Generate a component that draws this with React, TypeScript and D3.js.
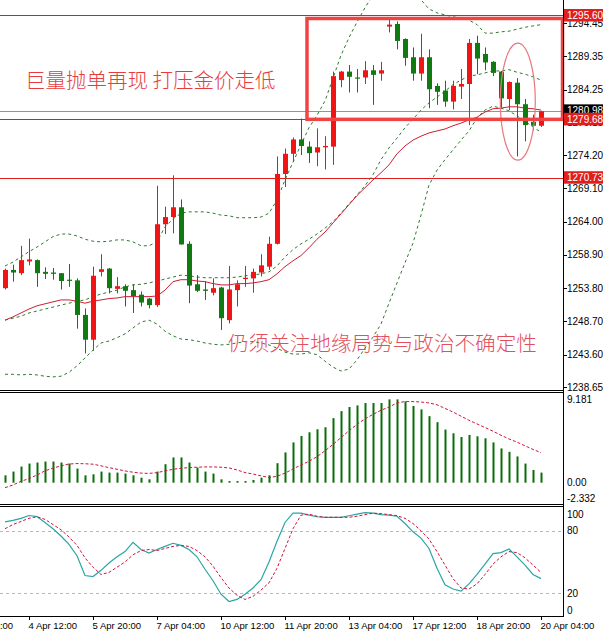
import React, { useRef, useEffect } from "react";
import * as d3 from "d3";

// H4 candles, oldest first (red = up, green = down)
const opens = [
  1253.8, 1256.6, 1256.1, 1257.9, 1258.1, 1256.3, 1256.2, 1256.1, 1255.1, 1255.0,
  1249.7, 1245.9, 1256.3, 1256.8, 1253.7, 1254.1, 1253.5, 1252.8, 1252.2, 1251.2,
  1263.6, 1264.7, 1266.2, 1260.6, 1254.4, 1253.6, 1253.1, 1253.9, 1248.9, 1253.5,
  1255.2, 1255.3, 1256.2, 1257.1, 1260.6, 1271.3, 1274.4, 1276.6, 1275.5, 1274.6,
  1275.4, 1275.5, 1285.7, 1287.0, 1286.1, 1286.1, 1287.2, 1286.7, 1293.9, 1294.3,
  1292.0, 1289.2, 1286.7, 1289.2, 1284.8, 1284.1, 1282.4, 1284.7, 1285.1, 1291.4,
  1289.7, 1288.5, 1287.0, 1282.8, 1285.3, 1282.0, 1279.3, 1278.7,
];
const highs = [
  1256.8, 1257.4, 1260.3, 1261.4, 1258.2, 1257.0, 1256.9, 1256.1, 1257.5, 1255.3,
  1250.7, 1257.1, 1259.0, 1256.9, 1255.5, 1254.4, 1254.4, 1253.3, 1252.3, 1269.5,
  1266.3, 1271.1, 1267.4, 1261.0, 1255.8, 1254.8, 1255.3, 1254.0, 1257.2, 1255.0,
  1257.2, 1256.8, 1259.0, 1261.7, 1274.0, 1275.2, 1276.9, 1279.8, 1276.3, 1278.3,
  1277.1, 1287.0, 1287.1, 1288.0, 1287.4, 1288.6, 1288.0, 1288.5, 1295.3, 1294.7,
  1292.1, 1290.7, 1292.8, 1290.4, 1285.2, 1285.6, 1285.6, 1287.4, 1292.0, 1292.5,
  1290.7, 1288.6, 1287.1, 1285.5, 1286.0, 1282.8, 1280.4, 1281.0,
];
const lows = [
  1253.6, 1254.8, 1255.8, 1257.3, 1254.0, 1255.2, 1255.1, 1253.6, 1254.0, 1247.6,
  1243.8, 1244.2, 1255.6, 1253.0, 1253.0, 1251.0, 1250.0, 1251.0, 1250.7, 1250.9,
  1262.1, 1262.2, 1260.5, 1251.5, 1253.2, 1252.0, 1252.7, 1247.4, 1248.4, 1251.0,
  1254.0, 1253.1, 1255.6, 1256.6, 1260.5, 1269.3, 1273.2, 1274.2, 1273.0, 1272.5,
  1272.0, 1272.7, 1284.6, 1283.8, 1283.8, 1285.1, 1281.9, 1285.6, 1293.0, 1290.4,
  1287.9, 1285.6, 1285.6, 1281.4, 1281.9, 1281.6, 1281.2, 1282.8, 1278.8, 1286.6,
  1287.2, 1286.3, 1281.5, 1281.1, 1274.0, 1276.3, 1278.0, 1278.5,
];
const closes = [
  1256.6, 1256.2, 1258.1, 1258.2, 1256.1, 1256.0, 1256.0, 1254.9, 1255.0, 1249.7,
  1245.9, 1255.7, 1256.7, 1253.8, 1254.1, 1253.4, 1252.6, 1251.6, 1251.2, 1263.6,
  1264.7, 1266.2, 1260.5, 1254.2, 1253.4, 1253.4, 1253.8, 1249.2, 1253.6, 1254.4,
  1255.4, 1256.3, 1257.3, 1260.6, 1271.3, 1274.4, 1276.6, 1275.6, 1274.5, 1275.4,
  1275.6, 1286.3, 1287.0, 1286.2, 1286.0, 1287.2, 1286.5, 1287.2, 1294.2, 1291.7,
  1289.1, 1286.7, 1289.2, 1284.3, 1283.9, 1282.4, 1284.8, 1285.1, 1291.4, 1289.0,
  1288.4, 1286.8, 1282.9, 1285.4, 1282.0, 1278.8, 1278.7, 1280.9,
];

// Bollinger bands (green dashed) and moving average (red)
const bbUpper = [
  1257.2, 1257.8, 1258.6, 1259.4, 1260.1, 1260.9, 1261.7, 1262.1, 1262.1, 1261.8,
  1261.3, 1261.0, 1260.9, 1261.0, 1261.2, 1261.2, 1260.9, 1260.3, 1260.3, 1260.9,
  1263.2, 1264.4, 1265.3, 1265.5, 1265.5, 1265.5, 1265.3, 1265.0, 1264.9, 1264.6,
  1264.6, 1264.6, 1264.7, 1265.3, 1267.3, 1270.4, 1273.1, 1275.8, 1278.4, 1280.3,
  1282.5, 1286.0, 1289.5, 1292.2, 1294.6, 1296.8, 1298.7, 1300.3, 1301.0, 1301.4,
  1301.0, 1299.5, 1298.0, 1296.6, 1296.0, 1295.7, 1295.4, 1295.2, 1294.9, 1294.2,
  1292.9, 1292.9, 1293.1, 1293.2, 1293.5, 1293.8, 1294.0, 1294.2,
];
const bbMiddle = [
  1248.9, 1249.2, 1249.5, 1250.0, 1250.3, 1250.6, 1250.9, 1251.2, 1251.5, 1251.8,
  1252.0, 1252.5, 1252.9, 1253.2, 1253.5, 1254.0, 1254.3, 1254.4, 1254.6, 1254.9,
  1255.2, 1255.5, 1255.8, 1255.7, 1255.5, 1255.4, 1255.4, 1255.4, 1255.4, 1255.5,
  1255.7, 1255.8, 1256.0, 1256.3, 1257.2, 1258.6, 1259.7, 1260.6, 1261.3, 1262.1,
  1263.0, 1264.0, 1265.3, 1266.7, 1268.1, 1269.5, 1271.2, 1273.5, 1275.3, 1276.8,
  1278.4, 1279.7, 1281.1, 1282.2, 1283.1, 1284.0, 1285.0, 1285.7, 1286.3, 1286.5,
  1286.8, 1287.1, 1287.1, 1287.3, 1286.9, 1286.6, 1286.2, 1285.7,
];
const bbLower = [
  1240.6, 1240.6, 1240.5, 1240.6, 1240.5, 1240.3, 1240.2, 1240.3, 1240.9, 1241.9,
  1243.1, 1244.3, 1245.4, 1245.7, 1246.2, 1246.8, 1247.7, 1248.6, 1248.9, 1248.3,
  1247.2, 1246.5, 1246.0, 1245.9, 1245.7, 1245.4, 1245.2, 1245.1, 1245.2, 1245.4,
  1245.6, 1245.6, 1245.4, 1245.1, 1244.6, 1244.0, 1243.7, 1243.7, 1243.9, 1243.6,
  1242.6, 1241.7, 1241.1, 1241.4, 1242.8, 1244.6, 1246.3, 1248.3, 1251.5, 1254.6,
  1257.7, 1260.7, 1265.0, 1269.6, 1271.9, 1273.5, 1275.0, 1276.5, 1277.9, 1279.9,
  1281.1, 1281.7, 1281.4, 1281.0, 1280.2, 1279.4, 1278.5, 1277.7,
];
const maLine = [
  1248.9, 1249.4, 1250.0, 1250.6, 1251.1, 1251.4, 1251.7, 1252.0, 1252.0, 1251.8,
  1251.5, 1251.8, 1252.0, 1252.2, 1252.3, 1252.5, 1252.5, 1252.5, 1252.5, 1252.6,
  1253.5, 1254.8, 1255.1, 1255.1, 1254.9, 1254.8, 1254.5, 1254.3, 1254.3, 1254.5,
  1254.5, 1254.6, 1254.8, 1255.1, 1256.0, 1257.1, 1258.0, 1258.8, 1260.0, 1261.3,
  1262.4, 1263.8, 1265.2, 1266.6, 1268.0, 1269.2, 1270.4, 1271.5, 1272.7, 1274.4,
  1275.6, 1276.5, 1277.1, 1277.6, 1277.9, 1278.2, 1278.7, 1279.1, 1279.6, 1280.0,
  1280.8, 1281.3, 1281.4, 1281.6, 1281.6, 1281.4, 1281.3, 1281.1,
];

// MACD panel
const macdHist = [
  0.81, 1.22, 1.77, 2.1, 2.21, 2.32, 2.32, 2.21, 2.1, 1.55,
  0.81, 0.92, 1.22, 1.11, 1.11, 1.0, 0.81, 0.55, 0.37, 1.22,
  2.03, 2.77, 2.77, 2.21, 1.66, 1.22, 1.0, 0.37, 0.18, 0.18,
  0.18, 0.3, 0.55, 0.81, 2.14, 3.32, 4.42, 5.13, 5.53, 5.86,
  6.08, 7.08, 7.85, 8.3, 8.48, 8.74, 8.74, 8.74, 9.14, 9.14,
  8.92, 8.41, 8.04, 7.3, 6.64, 5.83, 5.42, 5.01, 5.24, 5.09,
  4.87, 4.42, 3.76, 3.39, 2.88, 2.1, 1.4, 1.11,
];
const macdSignal = [
  -0.55, -0.25, 0.15, 0.45, 0.85, 1.3, 1.6, 1.85, 2.05, 2.1,
  2.08, 2.03, 1.85, 1.65, 1.48, 1.29, 1.15, 1.05, 1.02, 1.1,
  1.3, 1.47, 1.58, 1.66, 1.7, 1.73, 1.73, 1.7, 1.62, 1.4,
  1.11, 0.95, 0.75, 0.57, 0.7, 1.05, 1.5, 1.95, 2.35, 2.85,
  3.5, 4.2, 4.95, 5.7, 6.4, 7.0, 7.5, 7.95, 8.3, 8.75,
  8.9, 8.9, 8.85, 8.75, 8.55, 8.15, 7.75, 7.3, 6.85, 6.45,
  6.05, 5.65, 5.2, 4.8, 4.45, 4.05, 3.65, 3.3,
];

// Stochastic panel
const stochMain = [
  88.5, 90, 92, 94.7, 93.7, 88, 82, 75, 67, 56,
  37, 36, 42, 49, 55, 60, 69, 62, 58.5, 62,
  65, 68, 66, 62, 55, 43, 32, 19, 12, 14,
  19, 25, 33, 50, 70, 88, 97, 97, 95, 93.5,
  93, 93, 93, 94.5, 96, 97.5, 97, 95.5, 95, 94,
  87, 79, 73, 63, 44, 28, 24, 22, 29, 38,
  48, 58, 59, 62.5, 55, 47, 38, 34,
];
const stochSignal = [
  82, 86, 89, 92, 93.5, 91, 86, 81, 74, 66,
  54, 45, 38, 40, 45, 50, 57, 61, 62, 61,
  63, 65, 66, 65, 61, 55, 46, 35, 25, 18,
  14, 17, 23, 30, 44, 63, 82, 95, 96, 94,
  93, 93, 93, 93, 94, 95.5, 97, 96.5, 95.5, 94.5,
  92, 87, 80, 72, 60, 47, 34, 25, 24, 29,
  38, 48, 55, 60, 59, 54, 47, 40,
];

// axes
const priceTicks = [1294.45, 1289.35, 1284.25, 1279.15, 1274.2, 1269.1, 1264.0, 1258.9, 1253.8, 1248.7, 1243.6, 1238.65];
const levelLines = [1295.6, 1279.68, 1270.73];
const bidPrice = 1280.98;
const macdTicks = [9.181, 0, -2.332];
const macdTickLabels = ["9.181", "0.00", "-2.332"];
const stochTicks = [100, 80, 20, 0];
const stochLevels = [80, 20];
const dateTickIndex = [-5, 3, 11, 19, 27, 35, 43, 51, 59, 67];
const dateLabels = [
  "3 Apr 04:00", "4 Apr 12:00", "5 Apr 20:00", "7 Apr 04:00", "10 Apr 12:00",
  "11 Apr 20:00", "13 Apr 04:00", "17 Apr 12:00", "18 Apr 20:00", "20 Apr 04:00",
];

const title1 = "巨量抛单再现 打压金价走低";
const title2 = "仍须关注地缘局势与政治不确定性";

const W = 603;
const H = 635;
const AXIS_X = 563;
const AXIS_FONT = "'Liberation Sans', Arial, sans-serif";
const CJK_FONT = "'Noto Sans CJK SC', sans-serif";
const UP = "#f01414";
const DOWN = "#0f7a0f";

const GoldChart: React.FC = () => {
  const svgRef = useRef<SVGSVGElement | null>(null);

  useEffect(() => {
    if (!svgRef.current) return;
    const svg = d3.select(svgRef.current);
    svg.selectAll("*").remove();

    const x = d3.scaleLinear().domain([0, 67]).range([5, 541]);
    const yPrice = d3.scaleLinear().domain([1238.65, 1294.45]).range([387, 23]);
    const yMacd = d3.scaleLinear().domain([0, 9.181]).range([482.7, 399]);
    const yStoch = d3.scaleLinear().domain([0, 100]).range([614, 510]);
    const px = (i: number) => Math.round(x(i)) + 0.5;
    const crisp = (v: number) => Math.round(v) + 0.5;

    svg.append("rect").attr("width", W).attr("height", H).attr("fill", "#fff");

    // clip regions for the three panels
    const defs = svg.append("defs");
    const clips: [string, number, number][] = [
      ["clipMain", 0, 390],
      ["clipMacd", 393, 111],
      ["clipStoch", 507, 109],
    ];
    clips.forEach(([id, top, h]) => {
      defs.append("clipPath").attr("id", id).append("rect")
        .attr("x", 0).attr("y", top).attr("width", AXIS_X).attr("height", h);
    });

    // ---------- main panel ----------
    const main = svg.append("g").attr("clip-path", "url(#clipMain)");

    main.selectAll("line.level").data(levelLines).enter().append("line")
      .attr("x1", 0).attr("x2", AXIS_X)
      .attr("y1", (d) => crisp(yPrice(d))).attr("y2", (d) => crisp(yPrice(d)))
      .attr("stroke", "#e01e1e").attr("stroke-width", 1);

    main.append("line")
      .attr("x1", 0).attr("x2", AXIS_X)
      .attr("y1", crisp(yPrice(bidPrice))).attr("y2", crisp(yPrice(bidPrice)))
      .attr("stroke", "#8a96a3").attr("stroke-width", 1);

    const priceLine = d3.line<number>().x((_, i) => x(i)).y((d) => yPrice(d));

    [bbUpper, bbMiddle, bbLower].forEach((band) => {
      main.append("path").datum(band).attr("d", priceLine)
        .attr("fill", "none").attr("stroke", "#2f7a2f")
        .attr("stroke-width", 1).attr("stroke-dasharray", "3,3");
    });

    main.append("path").datum(maLine).attr("d", priceLine)
      .attr("fill", "none").attr("stroke", "#cc1f33").attr("stroke-width", 1);

    const idx = d3.range(opens.length);
    const candle = main.selectAll("g.candle").data(idx).enter().append("g");
    candle.append("line")
      .attr("x1", (i) => px(i)).attr("x2", (i) => px(i))
      .attr("y1", (i) => yPrice(highs[i])).attr("y2", (i) => yPrice(lows[i]))
      .attr("stroke", (i) => (closes[i] >= opens[i] ? UP : DOWN));
    candle.append("rect")
      .attr("x", (i) => Math.round(x(i)) - 2)
      .attr("width", 5)
      .attr("y", (i) => yPrice(Math.max(opens[i], closes[i])))
      .attr("height", (i) => Math.max(1.2, Math.abs(yPrice(opens[i]) - yPrice(closes[i]))))
      .attr("fill", (i) => (closes[i] >= opens[i] ? UP : DOWN));

    // highlight box and ellipse
    const boxLeft = x(37.75);
    const boxTop = yPrice(levelLines[0]) + 3;
    const boxBottom = yPrice(levelLines[1]);
    svg.append("rect")
      .attr("x", boxLeft).attr("y", boxTop)
      .attr("width", AXIS_X - 0.5 - boxLeft).attr("height", boxBottom - boxTop)
      .attr("fill", "none").attr("stroke", "#f04444").attr("stroke-width", 3.5);

    main.append("ellipse")
      .attr("cx", x(64.1)).attr("cy", yPrice(1282.4))
      .attr("rx", 17.5).attr("ry", 58.5)
      .attr("fill", "none").attr("stroke", "#e8787e").attr("stroke-width", 1.2);

    main.append("text").text(title1)
      .attr("x", 25).attr("y", 88)
      .attr("font-family", CJK_FONT).attr("font-size", 20.5).attr("font-weight", 300)
      .attr("fill", "#e63c40");
    main.append("text").text(title2)
      .attr("x", 228).attr("y", 351)
      .attr("font-family", CJK_FONT).attr("font-size", 20.6).attr("font-weight", 300)
      .attr("fill", "#e2505e");

    // ---------- MACD panel ----------
    const macd = svg.append("g").attr("clip-path", "url(#clipMacd)");
    macd.selectAll("rect.bar").data(macdHist).enter().append("rect")
      .attr("x", (_, i) => Math.round(x(i)) - 0.5)
      .attr("width", 2)
      .attr("y", (d) => yMacd(Math.max(0, d)))
      .attr("height", (d) => Math.abs(yMacd(d) - yMacd(0)))
      .attr("fill", "#0b6e0b");
    macd.append("path").datum(macdSignal)
      .attr("d", d3.line<number>().x((_, i) => x(i)).y((d) => yMacd(d)))
      .attr("fill", "none").attr("stroke", "#d0143c")
      .attr("stroke-width", 1).attr("stroke-dasharray", "3,2");

    // ---------- Stochastic panel ----------
    const stoch = svg.append("g").attr("clip-path", "url(#clipStoch)");
    stoch.selectAll("line.lvl").data(stochLevels).enter().append("line")
      .attr("x1", 0).attr("x2", AXIS_X)
      .attr("y1", (d) => crisp(yStoch(d))).attr("y2", (d) => crisp(yStoch(d)))
      .attr("stroke", "#b8b8b8").attr("stroke-dasharray", "3,3");
    const stochLine = d3.line<number>().x((_, i) => x(i)).y((d) => yStoch(d));
    stoch.append("path").datum(stochMain).attr("d", stochLine)
      .attr("fill", "none").attr("stroke", "#2aa5a5").attr("stroke-width", 1.2);
    stoch.append("path").datum(stochSignal).attr("d", stochLine)
      .attr("fill", "none").attr("stroke", "#d0143c")
      .attr("stroke-width", 1).attr("stroke-dasharray", "3,2");

    // ---------- frames ----------
    const frame = svg.append("g").attr("stroke", "#000").attr("stroke-width", 1);
    [390.5, 392.5, 504.5, 506.5, 616.5].forEach((yy) => {
      frame.append("line").attr("x1", 0).attr("x2", AXIS_X + 0.5).attr("y1", yy).attr("y2", yy);
    });
    frame.append("line").attr("x1", AXIS_X + 0.5).attr("x2", AXIS_X + 0.5).attr("y1", 0).attr("y2", 617);

    // ---------- right axis labels ----------
    const axisText = svg.append("g").attr("font-family", AXIS_FONT).attr("font-size", 10).attr("fill", "#000");

    priceTicks.forEach((p) => {
      const yy = yPrice(p);
      frame.append("line").attr("x1", AXIS_X).attr("x2", AXIS_X + 4).attr("y1", crisp(yy)).attr("y2", crisp(yy));
      axisText.append("text").text(p.toFixed(2)).attr("x", 567).attr("y", yy + 3.5);
    });

    macdTicks.forEach((v, k) => {
      const yy = Math.min(Math.max(yMacd(v), 399), 498);
      axisText.append("text").text(macdTickLabels[k]).attr("x", 567).attr("y", yy + 3.5);
    });

    stochTicks.forEach((v) => {
      const yy = Math.min(Math.max(yStoch(v), 514), 610);
      axisText.append("text").text(String(v)).attr("x", 567).attr("y", yy + 3.5);
    });

    // price tags on the axis
    const tags: [number, string][] = [
      [bidPrice, "#000"],
      [levelLines[0], "#e01e1e"],
      [levelLines[1], "#e01e1e"],
      [levelLines[2], "#e01e1e"],
    ];
    tags.forEach(([p, color]) => {
      const yy = yPrice(p);
      svg.append("rect").attr("x", 564).attr("y", yy - 6.5).attr("width", 40).attr("height", 12.5).attr("fill", color);
      svg.append("text").text(p.toFixed(2))
        .attr("x", 567).attr("y", yy + 3.5)
        .attr("font-family", AXIS_FONT).attr("font-size", 10).attr("fill", "#fff");
    });

    // ---------- date axis ----------
    dateTickIndex.forEach((i, k) => {
      const xx = px(i);
      frame.append("line").attr("x1", xx).attr("x2", xx).attr("y1", 616).attr("y2", 620);
      axisText.append("text").text(dateLabels[k])
        .attr("x", xx - 1).attr("y", 629).attr("font-size", 9.5);
    });
  }, []);

  return (
    <svg
      ref={svgRef}
      width={W}
      height={H}
      style={{ position: "absolute", left: 0, top: 0, display: "block" }}
    />
  );
};

export default function App() {
  return <GoldChart />;
}
